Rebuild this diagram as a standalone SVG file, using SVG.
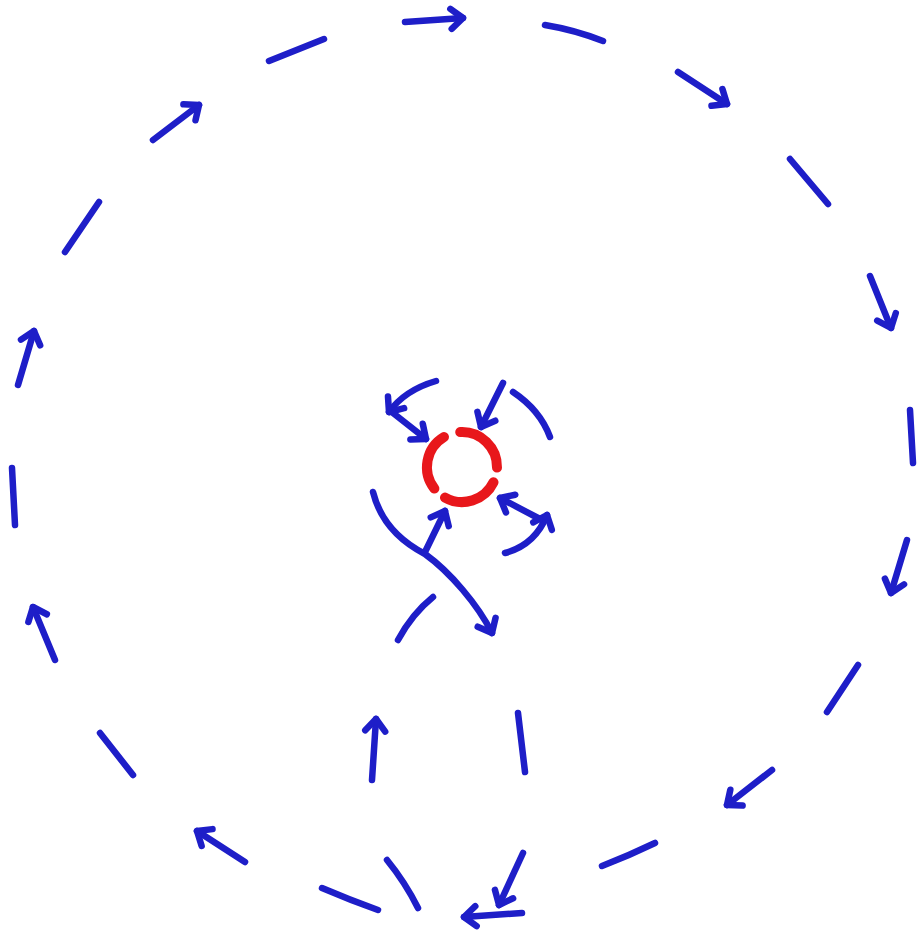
<svg xmlns="http://www.w3.org/2000/svg" width="917" height="937" viewBox="0 0 917 937">
<style>
.s{fill:none;stroke:#1e1ec8;stroke-width:6.5;stroke-linecap:round;stroke-linejoin:round}
.a{marker-end:url(#ah)}
.r{fill:none;stroke:#e8171b;stroke-width:10;stroke-linecap:round}
</style>
<defs>
<marker id="ah" markerUnits="userSpaceOnUse" viewBox="-20 -15 25 30" markerWidth="25" markerHeight="30" refX="0" refY="0" orient="auto" overflow="visible">
<path d="M-12,-10 L0,0 L-12,10" fill="none" stroke="#1e1ec8" stroke-width="6.5" stroke-linecap="round" stroke-linejoin="round"/>
</marker>
</defs>
<rect width="917" height="937" fill="#ffffff"/>
<g id="core">
<path class="r" d="M434.4,488.6 A35,35 0 0 1 444,437"/>
<path class="r" d="M460.2,432 A35,35 0 0 1 497,467.6"/>
<path class="r" d="M493.5,482.3 A35,35 0 0 1 445,497.6"/>
</g>
<g id="connectors">
<g id="outer-ring">
<path class="s a" d="M405,22 L463,18"/>
<path class="s" d="M545,25 Q575,30 603,41"/>
<path class="s a" d="M678,72 L727,104"/>
<path class="s" d="M790,159 L828,204"/>
<path class="s a" d="M870,276 L891,328"/>
<path class="s" d="M910,410 L913,463"/>
<path class="s a" d="M907,540 L891,593"/>
<path class="s" d="M858,665 L827,712"/>
<path class="s a" d="M772,770 L727,805"/>
<path class="s" d="M655,843 Q628,856 602,866"/>
<path class="s a" d="M522,913 L464,917"/>
<path class="s a" d="M523,853 L499,905"/>
<path class="s" d="M387,860 Q405,882 418,908"/>
<path class="s" d="M322,888 Q350,900 378,910"/>
<path class="s a" d="M245,862 L197,831"/>
<path class="s" d="M133,775 L100,733"/>
<path class="s a" d="M55,660 L33,607"/>
<path class="s" d="M15,525 L12,468"/>
<path class="s a" d="M18,385 L34,331"/>
<path class="s" d="M65,252 L99,202"/>
<path class="s a" d="M153,140 L199,105"/>
<path class="s" d="M269,61 L324,39"/>
</g>
<g id="inner-loop">
<path class="s a" d="M372,780 L376,719"/>
<path class="s" d="M518,713 L525,772"/>
<path class="s" d="M398,640 Q412,614 433,597"/>
<path class="s a" d="M373,492 C380,520 398,540 425,554 C450,572 478,605 492,633"/>
<path class="s a" d="M425,552 L445,511"/>
</g>
<g id="inflow">
<path class="s a" d="M436,381 Q405,390 389,412"/>
<path class="s a" d="M393,413 L426,439"/>
<path class="s a" d="M503,383 L481,427"/>
<path class="s" d="M513,392 Q540,410 550,437"/>
<path class="s a" d="M505,553 Q535,545 547,515"/>
<path class="s a" d="M540,519 L500,498"/>
</g>
</g>
</svg>
